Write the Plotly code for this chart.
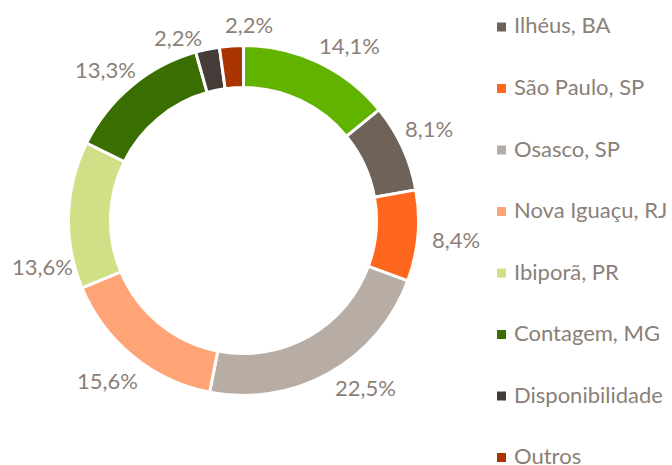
import math
import plotly.graph_objects as go

labels = ["São José dos Pinhais, PR", "Ilhéus, BA", "São Paulo, SP", "Osasco, SP",
          "Nova Iguaçu, RJ", "Ibiporã, PR", "Contagem, MG", "Disponibilidade", "Outros"]
legend_text = ["São José dos Pinhais,<br>PR", "Ilhéus, BA", "São Paulo, SP", "Osasco, SP",
               "Nova Iguaçu, RJ", "Ibiporã, PR", "Contagem, MG", "Disponibilidade", "Outros"]
values = [14.1, 8.1, 8.4, 22.5, 15.6, 13.6, 13.3, 2.2, 2.2]
colors = ["#62B300", "#6E6259", "#FF671F", "#B7ADA5", "#FFA477",
          "#CFE086", "#3A6E00", "#453C38", "#A93400"]

# label placement style: angular nudge (deg) and distance (px) from the centre
label_shift = [5.8, -1.6, 0.0, -6.7, 1.0, -14.8, -2.6, -7.8, 5.6]
label_dist = [204, 207, 213, 207, 210, 206, 204, 194, 196]

W, H = 672, 465
TEXT = "#8B7F78"
FONT = "Lato"
FS = 22

# pie geometry (pixels)
CX, CY, R = 243.5, 220.5, 175

fig = go.Figure()
fig.add_trace(go.Pie(
    labels=labels, values=values, sort=False, direction="clockwise", rotation=0,
    hole=0.76,
    marker=dict(colors=colors, line=dict(color="white", width=3)),
    textinfo="none", showlegend=False, hoverinfo="label+value",
    domain=dict(x=[(CX - R) / W, (CX + R) / W], y=[1 - (CY + R) / H, 1 - (CY - R) / H]),
))

annotations, shapes = [], []

# data labels around the ring, placed along each slice's mid-angle
total = sum(values)
cum = 0.0
for v, sh, d in zip(values, label_shift, label_dist):
    mid = (cum + v / 2) / total * 2 * math.pi + math.radians(sh)
    cum += v
    px = CX + d * math.sin(mid)
    py = CY - d * math.cos(mid)
    annotations.append(dict(
        text=f"{v:.1f}%".replace(".", ","), xref="paper", yref="paper",
        x=px / W, y=1 - py / H, xanchor="center", yanchor="middle", showarrow=False,
        font=dict(family=FONT, size=FS, color=TEXT)))

# manual legend
step = 61.5
first = 27.0
for i, (lab, col) in enumerate(zip(legend_text, colors)):
    if i == 0:
        cy = -28.0
        ty = cy
    else:
        cy = first + (i - 1) * step
        ty = cy - 2
    shapes.append(dict(type="rect", xref="paper", yref="paper",
                       x0=497 / W, x1=506 / W, y0=1 - (cy + 4.5) / H, y1=1 - (cy - 4.5) / H,
                       fillcolor=col, line=dict(width=0)))
    annotations.append(dict(text=lab, xref="paper", yref="paper", x=512 / W,
                            y=1 - ty / H, xanchor="left", yanchor="middle",
                            showarrow=False, align="left",
                            font=dict(family=FONT, size=FS, color=TEXT)))

fig.update_layout(
    width=W, height=H, margin=dict(l=0, r=0, t=0, b=0),
    paper_bgcolor="white", plot_bgcolor="white",
    shapes=shapes, annotations=annotations,
)
fig.write_html("out.html")
